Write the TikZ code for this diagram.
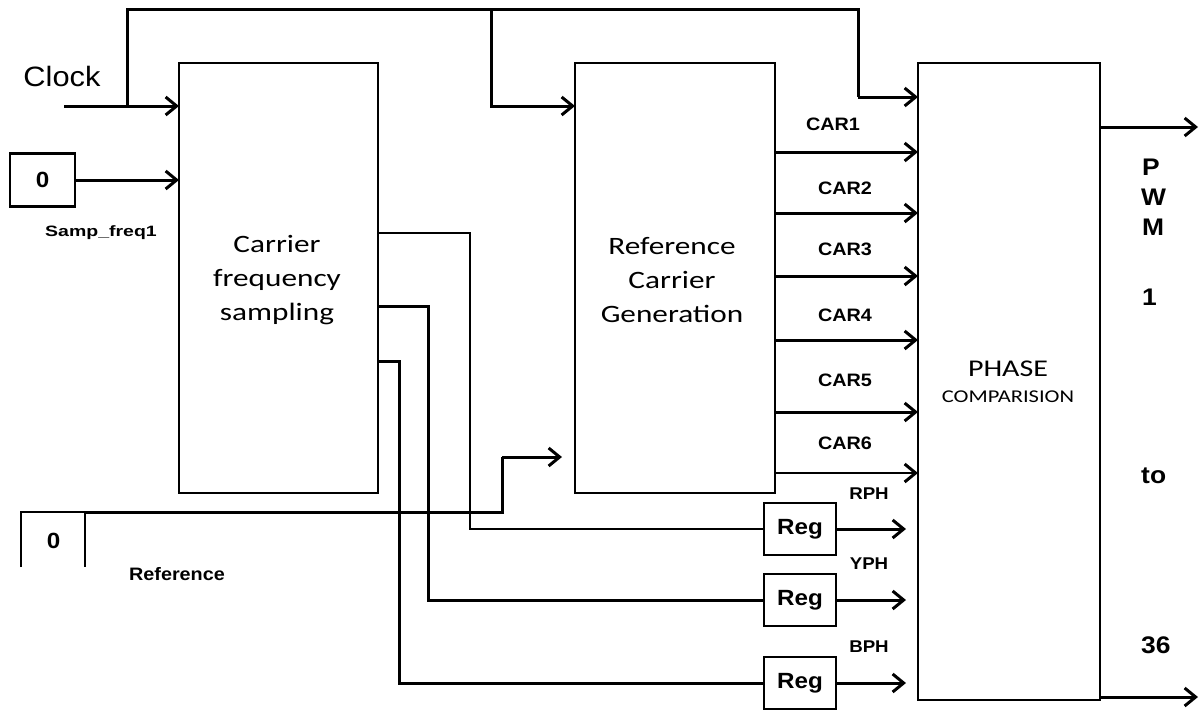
\documentclass[tikz,border=0pt]{standalone}
\usepackage{fontspec}
\setmainfont{Liberation Sans}[FakeStretch=1.1]
\newfontfamily\calfont{Carlito}[FakeStretch=1.25]
\newfontfamily\widefont{Liberation Sans}[FakeStretch=1.3]
\usetikzlibrary{arrows.meta,calc}
\tikzset{
  blk/.style={draw, line width=2.4pt, minimum width=#1, inner sep=0pt, outer sep=0pt},
  wire/.style={line width=3pt},
  thinwire/.style={line width=1.8pt},
  arr/.style={-{Straight Barb[length=11pt,width=18pt,line width=3pt]}},
  lbl/.style={font=\bfseries\fontsize{18}{20}\selectfont, inner sep=0pt},
  plbl/.style={font=\bfseries\fontsize{17}{19}\selectfont, inner sep=0pt},
  big/.style={font=\calfont\fontsize{25}{34}\selectfont, align=center, inner sep=0pt},
  pwm/.style={font=\bfseries\fontsize{24}{26}\selectfont, inner sep=0pt},
  regbox/.style={blk=72pt, minimum height=52pt, font=\bfseries\fontsize{22}{24}\selectfont},
}
\begin{document}
\begin{tikzpicture}[x=1pt,y=-1pt]
\useasboundingbox[fill=white] (0,0) rectangle (1200,710);

% main blocks
\node[blk=199pt, minimum height=430pt] (cfs) at (278.5,278) {};
\node[blk=200pt, minimum height=430pt] (rcg) at (675,278) {};
\node[blk=182pt, minimum height=637pt] (pc) at (1009,381.5) {};
\node[big] (cfst) at (277,280) {Carrier\\frequency\\sampling};
\node[big] (rcgt) at (672,280) {Reference\\Carrier\\Generation};
\node[font=\calfont\fontsize{24}{26}\selectfont, inner sep=0pt] (ph) at (1008,369) {PHASE};
\node[font=\calfont\fontsize{18}{20}\selectfont, inner sep=0pt] (cmp) at (1008,397) {COMPARISION};

% constant blocks
\node[blk=65pt, minimum height=53pt, font=\bfseries\fontsize{22}{24}\selectfont] (z1) at (42.5,180) {0};
\node[inner sep=0pt, font=\bfseries\fontsize{22}{24}\selectfont] (z2) at (53.5,541) {0};
\coordinate (z2a) at (21,567);
\coordinate (z2b) at (21,512);
\coordinate (z2c) at (85,512);
\coordinate (z2d) at (85,567);
\draw[line width=2.4pt] (z2a) -- (z2b) -- (z2c) -- (z2d);

% registers
\node[regbox] (reg1) at (800,529) {Reg};
\node[regbox] (reg2) at (800,600) {Reg};
\node[regbox] (reg3) at (800,683) {Reg};

% labels
\node[font=\fontsize{28}{30}\selectfont, inner sep=0pt] (clk) at (62,76) {Clock};
\node[font=\widefont\bfseries\fontsize{15}{17}\selectfont, inner sep=0pt] (sf) at (101,233) {Samp\_freq1};
\node[font=\bfseries\fontsize{18}{20}\selectfont, inner sep=0pt] (refl) at (177,574) {Reference};
\node[lbl] (c1) at (833,124) {CAR1};
\node[lbl] (c2) at (845,188) {CAR2};
\node[lbl] (c3) at (845,249) {CAR3};
\node[lbl] (c4) at (845,315) {CAR4};
\node[lbl] (c5) at (845,380) {CAR5};
\node[lbl] (c6) at (845,443) {CAR6};
\node[plbl] (rph) at (869,494) {RPH};
\node[plbl] (yph) at (869,564) {YPH};
\node[plbl] (bph) at (869,647) {BPH};
\node[pwm, anchor=west] (p) at (1142,167) {P};
\node[pwm, anchor=west] (w) at (1141,197) {W};
\node[pwm, anchor=west] (m) at (1142,227) {M};
\node[pwm, anchor=west] (one) at (1142,297) {1};
\node[pwm, anchor=west] (to) at (1141,476) {to};
\node[pwm, anchor=west] (n36) at (1141,645) {36};

% clock network
\coordinate (cin) at (64,106);
\coordinate (j1) at (127,106);
\coordinate (jt) at (127,9);
\coordinate (jb) at (491,9);
\coordinate (jr) at (858,9);
\coordinate (jrd) at (858,97);
\coordinate (jbd) at (491,106);
\draw[wire, arr] (cin) -- (cfs.west |- cin);
\draw[wire] (j1) -- (jt) -- (jr) -- (jrd);
\draw[wire, arr] (jrd) -- (pc.west |- jrd);
\draw[wire, arr] (jb) -- (jbd) -- (rcg.west |- jbd);

% samp_freq input
\draw[wire, arr] (z1.east) -- (cfs.west |- z1.east);

% reference input
\coordinate (rk1) at (502,512);
\coordinate (rk2) at (502,457);
\coordinate (rk3) at (562,457);
\draw[wire] (z2c) -- (rk1) -- (rk2);
\draw[wire, arr] (rk2) -- (rk3);

% carriers
\foreach \y/\n in {152/1,213/2,276/3,340/4,412/5}{
  \coordinate (ca\n) at (775,\y);
  \draw[wire, arr] (ca\n) -- (pc.west |- ca\n);
}
\coordinate (ca6) at (775,473);
\draw[line width=2.2pt, arr] (ca6) -- (pc.west |- ca6);

% phase lines from carrier frequency sampling
\coordinate (s1) at (470,233);
\coordinate (s2) at (428,306);
\coordinate (s3) at (399,361);
\draw[thinwire] (cfs.east |- s1) -- (s1) |- (reg1.west);
\draw[wire] (cfs.east |- s2) -- (s2) |- (reg2.west);
\draw[wire] (cfs.east |- s3) -- (s3) |- (reg3.west);

% register outputs
\coordinate (o1) at (906,529);
\coordinate (o2) at (906,600);
\coordinate (o3) at (906,683);
\draw[wire, arr] (reg1.east) -- (o1);
\draw[wire, arr] (reg2.east) -- (o2);
\draw[wire, arr] (reg3.east) -- (o3);

% outputs
\coordinate (po1) at (1198,127);
\coordinate (po2) at (1198,697);
\draw[wire, arr] (pc.east |- po1) -- (po1);
\draw[wire, arr] (pc.east |- po2) -- (po2);
\end{tikzpicture}
\end{document}
